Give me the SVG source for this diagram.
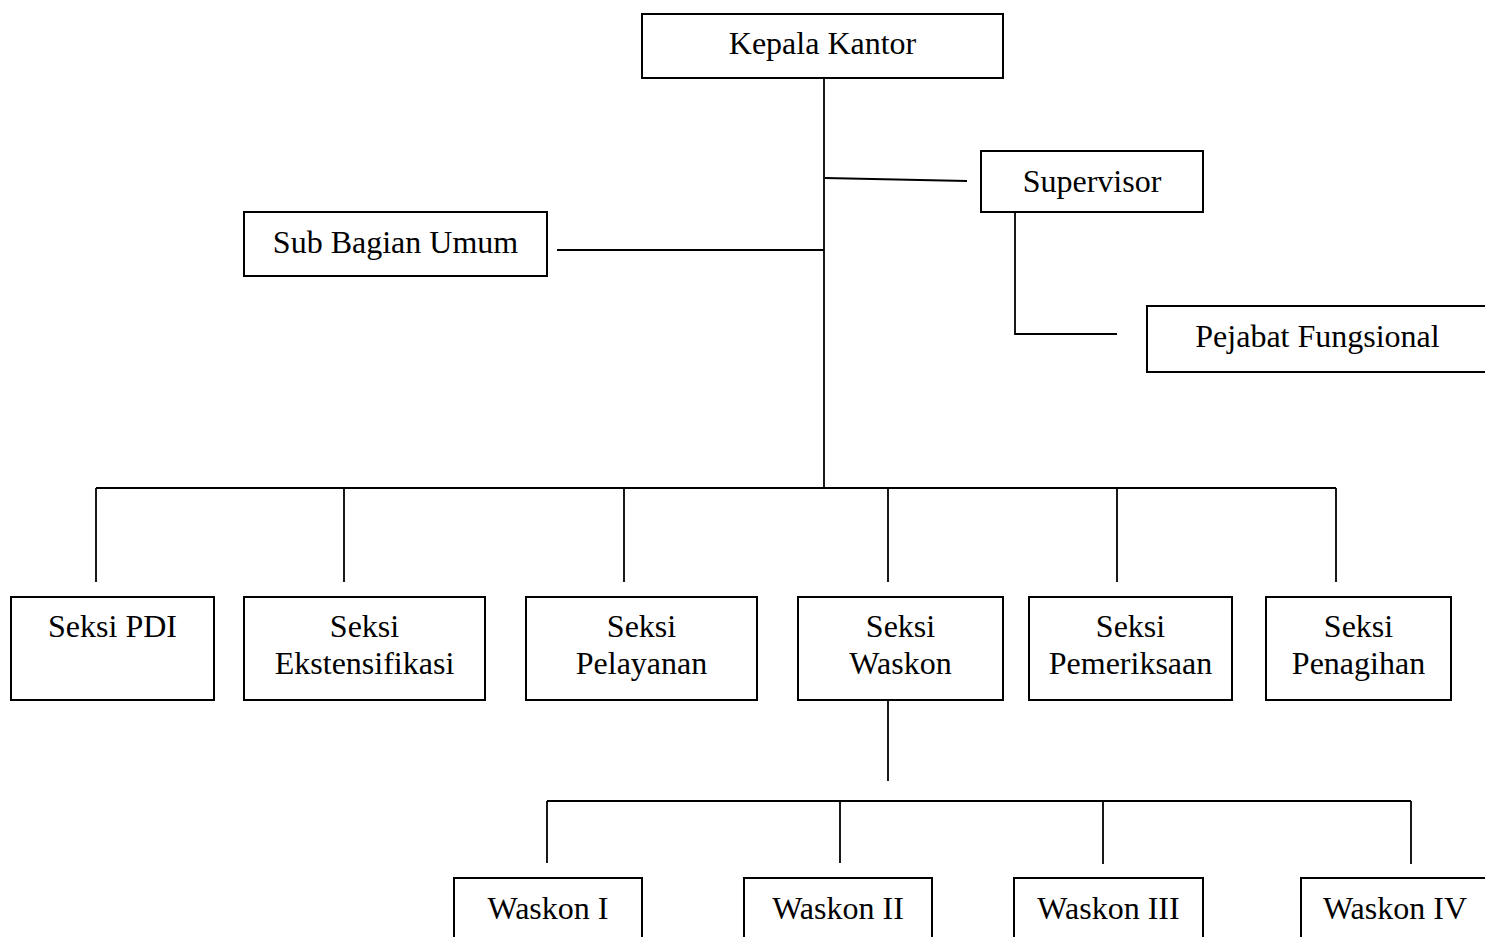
<svg xmlns="http://www.w3.org/2000/svg" width="1485" height="937" viewBox="0 0 1485 937">
<style>
  .box { fill: #ffffff; stroke: #000000; stroke-width: 2; }
  .ln { fill: none; stroke: #000000; stroke-width: 1.8; }
  text { font-family: "Liberation Serif", "Times New Roman", serif; font-size: 32px; fill: #000000; text-anchor: middle; }
</style>
<rect x="0" y="0" width="1485" height="937" fill="#ffffff"/>
<g id="connectors">
  <path class="ln" d="M824,78 V488"/>
  <path class="ln" d="M825,178 L967,181"/>
  <path class="ln" d="M557,250 H824"/>
  <path class="ln" d="M1015,212 V334 H1117"/>
  <path class="ln" d="M96,488 H1336"/>
  <path class="ln" d="M96,488 V582 M344,488 V582 M624,488 V582 M888,488 V582 M1117,488 V582 M1336,488 V582"/>
  <path class="ln" d="M888,700 V781"/>
  <path class="ln" d="M547,801 H1411"/>
  <path class="ln" d="M547,801 V863 M840,801 V863 M1103,801 V864 M1411,801 V864"/>
</g>
<g id="kepala-kantor">
  <rect class="box" x="642" y="14" width="361" height="64"/>
  <text x="822.5" y="54">Kepala Kantor</text>
</g>
<g id="supervisor">
  <rect class="box" x="981" y="151" width="222" height="61"/>
  <text x="1092" y="192">Supervisor</text>
</g>
<g id="sub-bagian-umum">
  <rect class="box" x="244" y="212" width="303" height="64"/>
  <text x="395.5" y="253">Sub Bagian Umum</text>
</g>
<g id="pejabat-fungsional">
  <rect class="box" x="1147" y="306" width="345" height="66"/>
  <text x="1317.5" y="347">Pejabat Fungsional</text>
</g>
<g id="seksi-pdi">
  <rect class="box" x="11" y="597" width="203" height="103"/>
  <text x="112.5" y="637">Seksi PDI</text>
</g>
<g id="seksi-ekstensifikasi">
  <rect class="box" x="244" y="597" width="241" height="103"/>
  <text x="364.5" y="637">Seksi</text>
  <text x="364.5" y="674">Ekstensifikasi</text>
</g>
<g id="seksi-pelayanan">
  <rect class="box" x="526" y="597" width="231" height="103"/>
  <text x="641.5" y="637">Seksi</text>
  <text x="641.5" y="674">Pelayanan</text>
</g>
<g id="seksi-waskon">
  <rect class="box" x="798" y="597" width="205" height="103"/>
  <text x="900.5" y="637">Seksi</text>
  <text x="900.5" y="674">Waskon</text>
</g>
<g id="seksi-pemeriksaan">
  <rect class="box" x="1029" y="597" width="203" height="103"/>
  <text x="1130.5" y="637">Seksi</text>
  <text x="1130.5" y="674">Pemeriksaan</text>
</g>
<g id="seksi-penagihan">
  <rect class="box" x="1266" y="597" width="185" height="103"/>
  <text x="1358.5" y="637">Seksi</text>
  <text x="1358.5" y="674">Penagihan</text>
</g>
<g id="waskon-1">
  <rect class="box" x="454" y="878" width="188" height="80"/>
  <text x="548" y="919">Waskon I</text>
</g>
<g id="waskon-2">
  <rect class="box" x="744" y="878" width="188" height="80"/>
  <text x="838" y="919">Waskon II</text>
</g>
<g id="waskon-3">
  <rect class="box" x="1014" y="878" width="189" height="80"/>
  <text x="1108.5" y="919">Waskon III</text>
</g>
<g id="waskon-4">
  <rect class="box" x="1301" y="878" width="188" height="80"/>
  <text x="1395" y="919">Waskon IV</text>
</g>
</svg>
